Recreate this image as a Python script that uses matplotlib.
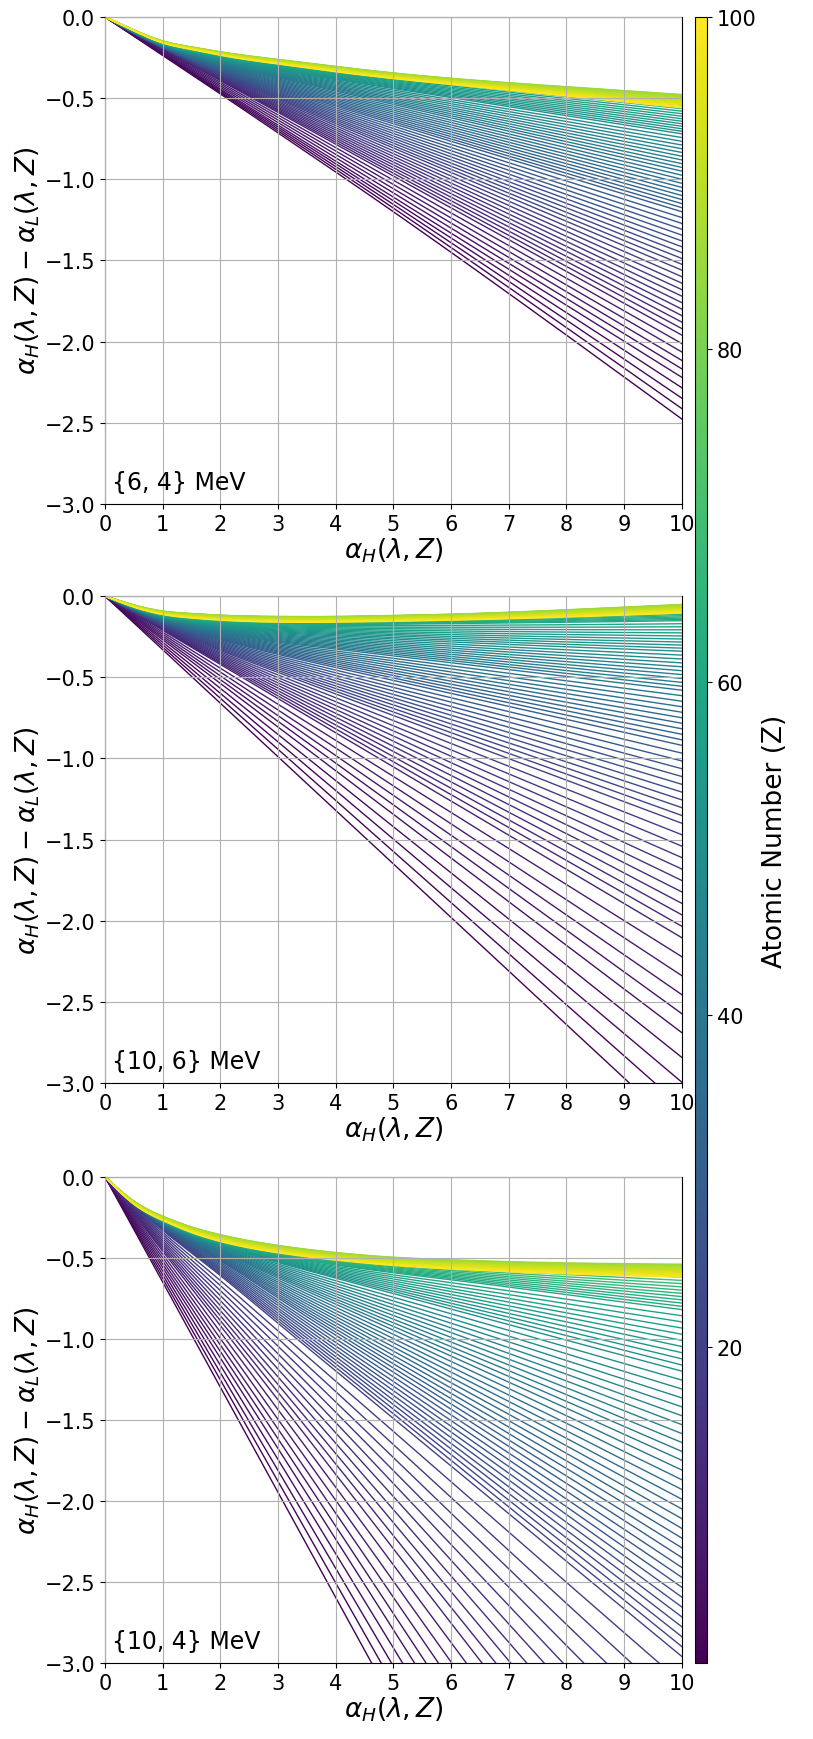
import numpy as np
import matplotlib
matplotlib.use('Agg')
import matplotlib.pyplot as plt
from matplotlib import colors

# values: y = alpha_H - alpha_L at alpha_H knots, for some Z
Z_ROWS = [1, 5, 10, 20, 30, 40, 50, 60, 70, 85, 100]
X_KNOTS = [0, 0.5, 1, 1.5, 2, 3, 4, 5, 6, 8, 10]

# {6, 4} MeV
P1_Y = [
    [0, -0.118, -0.237, -0.355, -0.474, -0.714, -0.955, -1.2, -1.45, -1.96, -2.477],
    [0, -0.111, -0.222, -0.333, -0.444, -0.666, -0.888, -1.11, -1.332, -1.776, -2.22],
    [0, -0.098, -0.196, -0.294, -0.392, -0.588, -0.784, -0.98, -1.176, -1.568, -1.96],
    [0, -0.1, -0.19, -0.275, -0.355, -0.506, -0.657, -0.808, -0.958, -1.259, -1.56],
    [0, -0.098, -0.185, -0.26, -0.325, -0.44, -0.549, -0.657, -0.766, -0.983, -1.2],
    [0, -0.095, -0.177, -0.24, -0.29, -0.375, -0.457, -0.539, -0.621, -0.786, -0.95],
    [0, -0.09, -0.17, -0.222, -0.262, -0.33, -0.386, -0.441, -0.497, -0.609, -0.72],
    [0, -0.086, -0.163, -0.205, -0.24, -0.293, -0.34, -0.38, -0.417, -0.49, -0.565],
    [0, -0.083, -0.155, -0.195, -0.228, -0.28, -0.325, -0.365, -0.398, -0.457, -0.51],
    [0, -0.08, -0.148, -0.185, -0.215, -0.262, -0.305, -0.345, -0.378, -0.43, -0.478],
    [0, -0.085, -0.16, -0.2, -0.236, -0.29, -0.338, -0.38, -0.416, -0.488, -0.56],
]

# {10, 6} MeV
P2_Y = [
    [0, -0.165, -0.33, -0.495, -0.66, -0.99, -1.32, -1.65, -1.98, -2.64, -3.3],
    [0, -0.1345, -0.269, -0.4035, -0.538, -0.807, -1.076, -1.345, -1.614, -2.152, -2.69],
    [0, -0.105, -0.21, -0.316, -0.421, -0.632, -0.842, -1.053, -1.263, -1.684, -2.105],
    [0, -0.095, -0.18, -0.26, -0.335, -0.47, -0.603, -0.736, -0.869, -1.134, -1.40],
    [0, -0.085, -0.16, -0.22, -0.27, -0.36, -0.44, -0.52, -0.6, -0.76, -0.92],
    [0, -0.08, -0.145, -0.19, -0.225, -0.285, -0.327, -0.369, -0.411, -0.496, -0.58],
    [0, -0.075, -0.13, -0.165, -0.19, -0.225, -0.245, -0.265, -0.283, -0.313, -0.34],
    [0, -0.07, -0.12, -0.145, -0.16, -0.172, -0.175, -0.174, -0.17, -0.162, -0.152],
    [0, -0.06, -0.102, -0.12, -0.13, -0.14, -0.14, -0.135, -0.128, -0.105, -0.075],
    [0, -0.055, -0.093, -0.108, -0.118, -0.126, -0.126, -0.12, -0.112, -0.085, -0.052],
    [0, -0.068, -0.114, -0.136, -0.149, -0.161, -0.161, -0.156, -0.149, -0.13, -0.105],
]

# {10, 4} MeV
P3_Y = [
    [0, -0.3245, -0.649, -0.9735, -1.298, -1.947, -2.596, -3.245, -3.894, -5.192, -6.49],
    [0, -0.28, -0.559, -0.8385, -1.118, -1.677, -2.236, -2.795, -3.354, -4.472, -5.59],
    [0, -0.2295, -0.459, -0.6885, -0.918, -1.377, -1.836, -2.295, -2.754, -3.672, -4.59],
    [0, -0.17, -0.33, -0.47, -0.61, -0.904, -1.198, -1.491, -1.785, -2.373, -2.96],
    [0, -0.165, -0.3, -0.415, -0.52, -0.749, -0.978, -1.206, -1.435, -1.893, -2.35],
    [0, -0.163, -0.287, -0.385, -0.465, -0.626, -0.786, -0.947, -1.107, -1.429, -1.75],
    [0, -0.165, -0.277, -0.36, -0.425, -0.53, -0.626, -0.721, -0.817, -1.009, -1.2],
    [0, -0.168, -0.272, -0.35, -0.405, -0.487, -0.545, -0.593, -0.636, -0.728, -0.82],
    [0, -0.163, -0.26, -0.33, -0.382, -0.455, -0.5, -0.532, -0.555, -0.59, -0.62],
    [0, -0.15, -0.244, -0.31, -0.358, -0.424, -0.468, -0.497, -0.513, -0.532, -0.54],
    [0, -0.17, -0.27, -0.345, -0.4, -0.47, -0.515, -0.548, -0.57, -0.6, -0.62],
]

PANELS = [P1_Y, P2_Y, P3_Y]
ENERGY_LABELS = ['{6, 4} MeV', '{10, 6} MeV', '{10, 4} MeV']
Z_ALL = np.arange(1, 101)
CBAR_TICKS = [20, 40, 60, 80, 100]


def spline(xk, yk, xs):
    # natural cubic spline through the knots
    xk = np.asarray(xk, float)
    yk = np.asarray(yk, float)
    n = len(xk)
    h = np.diff(xk)
    A = np.zeros((n, n))
    r = np.zeros(n)
    A[0, 0] = 1
    A[-1, -1] = 1
    for i in range(1, n - 1):
        A[i, i - 1] = h[i - 1]
        A[i, i] = 2 * (h[i - 1] + h[i])
        A[i, i + 1] = h[i]
        r[i] = 3 * ((yk[i + 1] - yk[i]) / h[i] - (yk[i] - yk[i - 1]) / h[i - 1])
    c = np.linalg.solve(A, r)
    b = (yk[1:] - yk[:-1]) / h - h * (2 * c[:-1] + c[1:]) / 3
    d = (c[1:] - c[:-1]) / (3 * h)
    idx = np.clip(np.searchsorted(xk, xs) - 1, 0, n - 2)
    dx = xs - xk[idx]
    return yk[idx] + b[idx] * dx + c[idx] * dx ** 2 + d[idx] * dx ** 3


fig = plt.figure(figsize=(8.13, 17.4), dpi=100, facecolor='white')
norm = colors.Normalize(vmin=1, vmax=100)
cmap = plt.get_cmap('viridis')

ax_pos = [
    [0.129, 0.7098, 0.7097, 0.2799],
    [0.129, 0.3770, 0.7097, 0.2799],
    [0.129, 0.0437, 0.7097, 0.2795],
]

xs = np.linspace(0, 10, 300)
rows_z = np.array(Z_ROWS, float)

for k in range(3):
    ax = fig.add_axes(ax_pos[k])
    table = np.array(PANELS[k])
    for z in Z_ALL:
        yk = [np.interp(z, rows_z, table[:, j]) for j in range(len(X_KNOTS))]
        ys = spline(X_KNOTS, yk, xs)
        ax.plot(xs, ys, color=cmap(norm(z)), linewidth=1.0)
    ax.set_xlim(0, 10)
    ax.set_ylim(-3, 0)
    ax.set_xticks(range(0, 11))
    ax.set_yticks(np.arange(-3, 0.01, 0.5))
    ax.grid(True)
    ax.set_axisbelow(False)
    ax.tick_params(labelsize=15)
    ax.set_xlabel(r'$\alpha_H(\lambda, Z)$', fontsize=19, labelpad=1)
    ax.set_ylabel(r'$\alpha_H(\lambda, Z) - \alpha_L(\lambda, Z)$', fontsize=19, labelpad=2)
    ax.text(0.012, 0.02, ENERGY_LABELS[k], transform=ax.transAxes, fontsize=17, va='bottom')

cax = fig.add_axes([0.855, 0.0437, 0.0148, 0.946])
sm = plt.cm.ScalarMappable(norm=norm, cmap=cmap)
cb = fig.colorbar(sm, cax=cax, ticks=CBAR_TICKS)
cb.ax.tick_params(labelsize=15)
cb.set_label('Atomic Number (Z)', fontsize=19)

fig.savefig('out.png', dpi=100, facecolor='white')
plt.close()
